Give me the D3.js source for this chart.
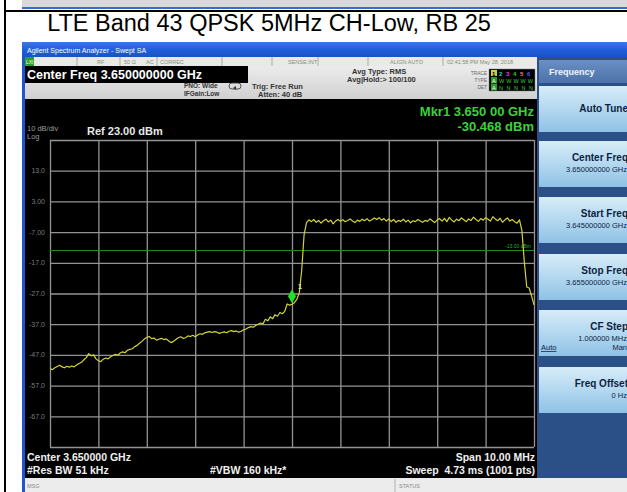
<!DOCTYPE html>
<html><head><meta charset="utf-8">
<script src="https://cdn.jsdelivr.net/npm/d3@7"></script>
<style>html,body{margin:0;padding:0;background:#fff;} svg{display:block;font-family:"Liberation Sans",Arial,sans-serif;} text{white-space:pre;}</style>
</head><body><svg id="c" width="627" height="492"></svg>
<script>
// ---------------- data ----------------
const chartTitle = "LTE Band 43 QPSK 5MHz CH-Low, RB 25";
const sweepStartMHz = 3645, sweepStopMHz = 3655;
const refLevelDbm = 23, bottomLevelDbm = -77;
const levelDbm = [
-51.5,-51.8,-51.2,-50.8,-50.4,-50.9,-51.2,-50.7,-51.0,-50.6,
-50.9,-50.3,-49.8,-49.4,-48.6,-47.9,-46.6,-47.3,-47.0,-48.3,
-48.9,-49.2,-48.4,-48.0,-48.3,-47.6,-47.2,-46.8,-47.1,-46.4,
-46.0,-46.3,-45.5,-45.2,-45.0,-44.3,-43.9,-43.2,-42.6,-41.8,
-41.3,-41.0,-41.7,-41.5,-42.2,-41.9,-41.6,-42.0,-41.8,-42.4,
-43.0,-42.6,-42.0,-41.4,-41.1,-41.6,-41.4,-40.8,-41.0,-40.6,
-41.1,-40.5,-40.1,-40.3,-39.8,-39.6,-39.4,-39.7,-39.4,-39.6,
-40.0,-39.7,-39.5,-39.8,-39.3,-39.1,-39.4,-39.2,-39.6,-39.3,
-38.8,-38.6,-38.1,-37.8,-38.0,-37.4,-37.0,-36.6,-36.9,-35.4,
-35.9,-34.6,-35.2,-33.9,-34.4,-33.2,-33.6,-32.8,-30.4,-30.8,
-30.5,-30.0,-28.9,-26.8,-19.5,-7.8,-3.9,-3.0,-3.6,-2.9,
-3.8,-3.2,-4.1,-3.3,-2.8,-3.7,-3.1,-4.3,-3.4,-2.9,
-3.5,-3.0,-3.6,-3.2,-2.7,-3.4,-3.9,-3.1,-3.5,-2.8,
-3.3,-2.6,-3.4,-3.0,-2.4,-2.9,-2.3,-3.1,-2.6,-3.4,
-2.7,-3.6,-2.9,-3.8,-3.2,-3.5,-2.8,-3.7,-3.1,-4.0,
-3.3,-3.6,-2.9,-3.4,-3.8,-3.2,-3.5,-2.7,-3.3,-3.9,
-3.0,-2.6,-3.4,-2.5,-3.6,-2.2,-3.1,-3.7,-2.8,-3.3,
-2.4,-3.0,-3.6,-2.7,-3.2,-2.1,-2.9,-3.5,-2.6,-3.1,
-2.3,-2.8,-3.4,-2.0,-2.7,-3.3,-2.5,-3.8,-3.0,-2.4,
-3.4,-2.9,-3.6,-4.1,-3.0,-6.5,-16.7,-24.9,-25.2,-27.8,
-30.7];
const gridFreqMHz = [3645,3646,3647,3648,3649,3650,3651,3652,3653,3654,3655];
const gridLevelDbm = [23,13,3,-7,-17,-27,-37,-47,-57,-67,-77];
const yTickValues = [13,3,-7,-17,-27,-37,-47,-57,-67];
const yTickLabels = ["13.0","3.00","-7.00","-17.0","-27.0","-37.0","-47.0","-57.0","-67.0"];
const displayLineDbm = -13;
const displayLineLabel = "-13.00 dBm";
const markerFreqMHz = 3650, markerLevelDbm = -30.468;
const markerText = ["Mkr1 3.650 00 GHz", "-30.468 dBm"];
const statusItems = [["RF",97],["50 Ω",124],["AC",146],["CORREC",160],["SENSE:INT",288],["ALIGN AUTO",390],["02:41:58 PM May 28, 2018",447]];
const statusSeps = [77,120,157,222,272,318,368,443];
const softkeyLabels = ["Auto Tune","Center Freq","Start Freq","Stop Freq","CF Step","Freq Offset"];
const softkeyValues = ["","3.650000000 GHz","3.645000000 GHz","3.655000000 GHz","1.000000 MHz","0 Hz"];
const softkeyTops = [86,141,197,254,310,367];
const bottomLeft = ["Center 3.650000 GHz","#Res BW 51 kHz"];
const bottomMid = "#VBW 160 kHz*";
const bottomRight = ["Span 10.00 MHz","Sweep  4.73 ms (1001 pts)"];

// ---------------- drawing ----------------
const svg = d3.select("#c");
const W = 627, H = 492;
const defs = svg.append("defs");
function lg(id, stops){ const g=defs.append("linearGradient").attr("id",id).attr("x1",0).attr("y1",0).attr("x2",0).attr("y2",1);
  stops.forEach(s=>g.append("stop").attr("offset",s[0]).attr("stop-color",s[1])); }
lg("tb",[[0,"#3b78e8"],[0.5,"#1f5fdc"],[1,"#1a52c4"]]);
lg("btn",[[0,"#d6ecf8"],[0.5,"#b3d8f0"],[1,"#8fc1e6"]]);
lg("hdr",[[0,"#6b8fc2"],[1,"#4b72aa"]]);
lg("info",[[0,"#ececec"],[1,"#d0d0d0"]]);

svg.append("rect").attr("width",W).attr("height",H).attr("fill","#fff");
// remnant strip at very top
svg.append("rect").attr("x",22).attr("y",0).attr("width",W-22).attr("height",8).attr("fill","#d9d9d9");
svg.append("rect").attr("x",22).attr("y",7).attr("width",W-22).attr("height",2).attr("fill","#3a6bd0");
svg.append("rect").attr("x",4).attr("y",10).attr("width",W-4).attr("height",2).attr("fill","#000");
svg.append("rect").attr("x",4).attr("y",0).attr("width",2).attr("height",H).attr("fill","#000");

// title
svg.append("text").attr("x",269).attr("y",31).attr("text-anchor","middle")
  .attr("font-size",23.5).attr("fill","#000").text(chartTitle);

// window frame
svg.append("rect").attr("x",22).attr("y",42).attr("width",W-22).attr("height",H-42).attr("fill","#1d57d0");
svg.append("rect").attr("x",22).attr("y",42).attr("width",W-22).attr("height",15).attr("fill","url(#tb)");
svg.append("text").attr("x",27).attr("y",53).attr("font-size",7).attr("fill","#fff").text("Agilent Spectrum Analyzer - Swept SA");

// status row
svg.append("rect").attr("x",25).attr("y",57).attr("width",512).attr("height",9).attr("fill","#e9e9e9");
svg.append("rect").attr("x",25).attr("y",57).attr("width",9).attr("height",9).attr("fill","#2e9e2e");
svg.append("text").attr("x",26).attr("y",64).attr("font-size",5).attr("fill","#fff").text("LXI");
statusSeps.forEach(s=>svg.append("line").attr("x1",s).attr("x2",s).attr("y1",57).attr("y2",66).attr("stroke","#aaa"));
statusItems.forEach(s=>svg.append("text").attr("x",s[1]).attr("y",64).attr("font-size",5.5).attr("fill","#8a8a8a").text(s[0]));

// info area
svg.append("rect").attr("x",25).attr("y",66).attr("width",512).attr("height",33).attr("fill","url(#info)");
svg.append("rect").attr("x",25).attr("y",66).attr("width",223).attr("height",17).attr("fill","#000");
svg.append("text").attr("x",27).attr("y",79).attr("font-size",12.5).attr("font-weight","bold").attr("fill","#fff").text("Center Freq 3.650000000 GHz");
const info = [["PNO: Wide",184,88],["IFGain:Low",184,96],["Trig: Free Run",252,89],["Atten: 40 dB",258,97],["Avg Type: RMS",352,74],["Avg|Hold:> 100/100",347,82]];
info.forEach(t=>svg.append("text").attr("x",t[1]).attr("y",t[2]).attr("font-size",t[0].startsWith("Avg")||t[0].startsWith("Trig")||t[0].startsWith("Atten")?7.5:6.5)
  .attr("font-weight","bold").attr("fill","#333").text(t[0]));
svg.append("rect").attr("x",229).attr("y",83).attr("width",12).attr("height",6).attr("rx",3).attr("fill","none").attr("stroke","#333").attr("stroke-width",0.8);
svg.append("path").attr("d","M233,88 l3,-2 l0,4 z").attr("fill","#333");
// trace box
[["TRACE",75],["TYPE",82],["DET",89]].forEach(t=>svg.append("text").attr("x",487).attr("y",t[1]).attr("text-anchor","end").attr("font-size",4.8).attr("fill","#666").text(t[0]));
svg.append("rect").attr("x",489).attr("y",69).attr("width",46).attr("height",22).attr("fill","#000").attr("stroke","#888").attr("stroke-width",0.5);
const trCols = ["#c8d23c","#29d3d3","#e040e0","#3cc83c","#e09050","#4060ff"];
trCols.forEach((c,i)=>{ if(i===0) svg.append("rect").attr("x",491).attr("y",70).attr("width",6).attr("height",6).attr("fill",c);
  svg.append("text").attr("x",492+i*7).attr("y",75.5).attr("font-size",6).attr("font-weight","bold").attr("fill",i===0?"#000":c).text(i+1); });
[["A","WWWWW",82.5],["A","NNNNN",89.5]].forEach(r=>{ svg.append("rect").attr("x",491).attr("y",r[2]-5.5).attr("width",6).attr("height",6.5).attr("fill","#2a9a2a");
  svg.append("text").attr("x",492).attr("y",r[2]).attr("font-size",5.5).attr("fill","#fff").text(r[0]);
  svg.append("text").attr("x",499).attr("y",r[2]).attr("font-size",5.5).attr("fill","#44c844").attr("textLength",34).text(r[1]); });

// display area
svg.append("rect").attr("x",25).attr("y",99).attr("width",512).attr("height",379).attr("fill","#000");

// scales
const plot = {l:50, r:534, t:140, b:447};
const x = d3.scaleLinear().domain([sweepStartMHz, sweepStopMHz]).range([plot.l, plot.r]);
const y = d3.scaleLinear().domain([bottomLevelDbm, refLevelDbm]).range([plot.b, plot.t]);

// grid via axes
const gx = svg.append("g").attr("transform",`translate(0,${plot.b})`)
  .call(d3.axisBottom(x).tickValues(gridFreqMHz).tickSize(-(plot.b-plot.t)).tickFormat(""));
const gy = svg.append("g").attr("transform",`translate(${plot.l},0)`)
  .call(d3.axisLeft(y).tickValues(gridLevelDbm).tickSize(-(plot.r-plot.l)).tickFormat(""));
[gx,gy].forEach(g=>{ g.select(".domain").remove(); g.selectAll("line").attr("stroke","#949494").attr("stroke-width",1.3); });

// y labels
yTickValues.forEach((v,i)=>svg.append("text").attr("x",45).attr("y",y(v)+2.5).attr("text-anchor","end")
  .attr("font-size",7).attr("fill","#7c7c7c").text(yTickLabels[i]));
svg.append("text").attr("x",27).attr("y",131).attr("font-size",7.5).attr("fill","#9a9a9a").text("10 dB/div");
svg.append("text").attr("x",27).attr("y",138.5).attr("font-size",7.5).attr("fill","#9a9a9a").text("Log");
svg.append("text").attr("x",87).attr("y",134.5).attr("font-size",11).attr("font-weight","bold").attr("fill","#e8e8e8").text("Ref 23.00 dBm");

// display line
svg.append("line").attr("x1",plot.l).attr("x2",plot.r).attr("y1",y(displayLineDbm)).attr("y2",y(displayLineDbm))
  .attr("stroke","#1f8a1f").attr("stroke-width",1.2);
svg.append("text").attr("x",531).attr("y",y(displayLineDbm)-2.5).attr("text-anchor","end").attr("font-size",5).attr("fill","#2fae2f").text(displayLineLabel);

// trace
const n = levelDbm.length;
const pts = levelDbm.map((v,i)=>[sweepStartMHz + i*(sweepStopMHz-sweepStartMHz)/(n-1), v]);
svg.append("path").datum(pts).attr("fill","none").attr("stroke","#d2d23a").attr("stroke-width",1.2)
  .attr("stroke-linejoin","round")
  .attr("d", d3.line().x(d=>x(d[0])).y(d=>y(d[1])));

// marker
const mx = x(markerFreqMHz), my = y(markerLevelDbm);
svg.append("path").attr("d",`M${mx},${my-15} L${mx+4},${my-8} L${mx},${my-1} L${mx-4},${my-8} Z`).attr("fill","#22e022");
svg.append("text").attr("x",mx+6).attr("y",my-15).attr("font-size",7).attr("font-weight","bold").attr("fill","#e8e8a0").text("1");

// marker readout
svg.append("text").attr("x",534).attr("y",116).attr("text-anchor","end").attr("font-size",13).attr("font-weight","bold").attr("fill","#3ad23a").text(markerText[0]);
svg.append("text").attr("x",534).attr("y",131).attr("text-anchor","end").attr("font-size",13).attr("font-weight","bold").attr("fill","#3ad23a").text(markerText[1]);

// bottom annotations
svg.append("text").attr("x",27).attr("y",461).attr("font-size",10.5).attr("font-weight","bold").attr("fill","#f0f0f0").text(bottomLeft[0]);
svg.append("text").attr("x",27).attr("y",474).attr("font-size",10.5).attr("font-weight","bold").attr("fill","#f0f0f0").text(bottomLeft[1]);
svg.append("text").attr("x",210).attr("y",474).attr("font-size",10.5).attr("font-weight","bold").attr("fill","#f0f0f0").text(bottomMid);
svg.append("text").attr("x",535).attr("y",461).attr("text-anchor","end").attr("font-size",10.5).attr("font-weight","bold").attr("fill","#f0f0f0").text(bottomRight[0]);
svg.append("text").attr("x",535).attr("y",474).attr("text-anchor","end").attr("font-size",10.5).attr("font-weight","bold").attr("fill","#f0f0f0").text(bottomRight[1]);

// bottom status bar
svg.append("rect").attr("x",25).attr("y",478).attr("width",W-25).attr("height",14).attr("fill","#ececec");
svg.append("line").attr("x1",395).attr("x2",395).attr("y1",479).attr("y2",492).attr("stroke","#b0b0b0");
svg.append("text").attr("x",27).attr("y",488).attr("font-size",5.5).attr("fill","#888").text("MSG");
svg.append("text").attr("x",399).attr("y",488).attr("font-size",5.5).attr("fill","#888").text("STATUS");

// right softkey panel
svg.append("rect").attr("x",537).attr("y",57).attr("width",W-537).attr("height",421).attr("fill","#2b5088");
svg.append("rect").attr("x",539).attr("y",60).attr("width",W-539).attr("height",23).attr("fill","url(#hdr)");
svg.append("text").attr("x",549).attr("y",75).attr("font-size",9).attr("font-weight","bold").attr("fill","#f2f6ff").text("Frequency");
softkeyLabels.forEach((lab,i)=>{
  const t = softkeyTops[i];
  svg.append("rect").attr("x",539).attr("y",t).attr("width",W-539).attr("height",46).attr("fill","url(#btn)");
  const hasVal = softkeyValues[i] !== "";
  svg.append("text").attr("x",628).attr("y",hasVal? t+20 : t+26).attr("text-anchor","end").attr("font-size",10).attr("font-weight","bold").attr("fill","#0d1f40").text(lab);
  if (hasVal) svg.append("text").attr("x",627).attr("y",t+31).attr("text-anchor","end").attr("font-size",7.5).attr("fill","#0d1f40").text(softkeyValues[i]);
});
svg.append("text").attr("x",541).attr("y",softkeyTops[4]+40).attr("font-size",7.5).attr("fill","#0d1f40").attr("text-decoration","underline").text("Auto");
svg.append("text").attr("x",627).attr("y",softkeyTops[4]+40).attr("text-anchor","end").attr("font-size",7.5).attr("fill","#0d1f40").text("Man");
</script></body></html>
